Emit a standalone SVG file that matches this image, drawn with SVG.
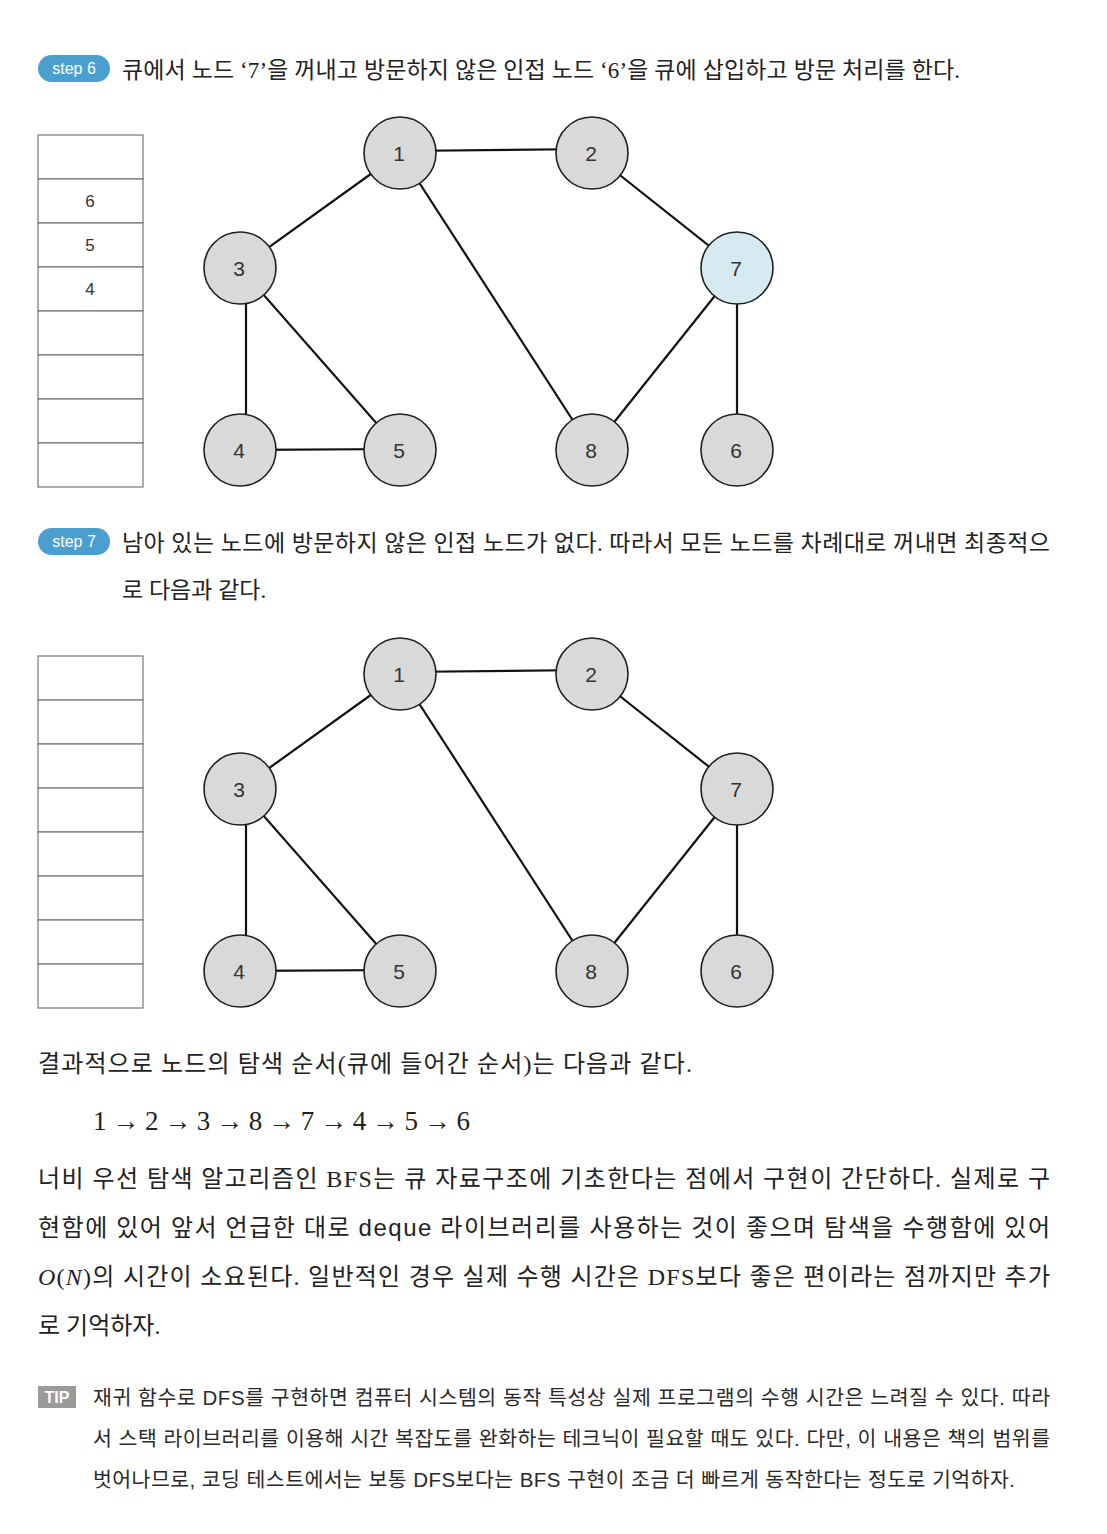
<svg xmlns="http://www.w3.org/2000/svg" width="1107" height="1534" viewBox="0 0 1107 1534">
<style>
.bg{fill:#ffffff}
.badge{fill:#4b9fcf}
.badgeT{font-family:"Liberation Sans","Noto Sans",sans-serif;font-size:16px;fill:#ffffff;text-anchor:middle}
.body{font-family:"Liberation Serif","Noto Sans CJK KR",serif;font-size:23px;fill:#222222}
.para{font-size:24px}
.tip{font-family:"Liberation Sans","Noto Sans CJK KR",sans-serif;font-size:20.5px;fill:#2a2a2a}
.cell{fill:#ffffff;stroke:#777777;stroke-width:1.2}
.cellT{font-family:"Liberation Sans","Noto Sans",sans-serif;font-size:17px;fill:#333333;text-anchor:middle}
.node{fill:#d9d9d9;stroke:#1e1e1e;stroke-width:1.6}
.cur{fill:#d6eaf2}
.nodeT{font-family:"Liberation Sans","Noto Sans",sans-serif;font-size:21px;fill:#333333;text-anchor:middle}
.edge{stroke:#111111;stroke-width:2.2;fill:none}
</style>
<rect class="bg" x="0" y="0" width="1107" height="1534"/>

<!-- step 6 header -->
<g id="step6-header">
<rect class="badge" x="38" y="55" width="72" height="27" rx="13.5"/>
<text class="badgeT" x="74" y="74">step 6</text>
<text class="body" x="122" y="78" textLength="838" lengthAdjust="spacing">큐에서 노드 ‘7’을 꺼내고 방문하지 않은 인접 노드 ‘6’을 큐에 삽입하고 방문 처리를 한다.</text>
</g>

<!-- queue 1 -->
<g id="queue1">
<rect class="cell" x="38" y="135" width="105" height="44"/>
<rect class="cell" x="38" y="179" width="105" height="44"/>
<rect class="cell" x="38" y="223" width="105" height="44"/>
<rect class="cell" x="38" y="267" width="105" height="44"/>
<rect class="cell" x="38" y="311" width="105" height="44"/>
<rect class="cell" x="38" y="355" width="105" height="44"/>
<rect class="cell" x="38" y="399" width="105" height="44"/>
<rect class="cell" x="38" y="443" width="105" height="44"/>
<text class="cellT" x="90" y="207">6</text>
<text class="cellT" x="90" y="251">5</text>
<text class="cellT" x="90" y="295">4</text>
</g>

<!-- graph 1 edges -->
<g id="edges1">
<line class="edge" x1="400" y1="151" x2="592" y2="149"/>
<line class="edge" x1="400" y1="153" x2="240" y2="268"/>
<line class="edge" x1="400" y1="153" x2="592" y2="450"/>
<line class="edge" x1="592" y1="153" x2="737" y2="268"/>
<line class="edge" x1="246" y1="268" x2="246" y2="450"/>
<line class="edge" x1="240" y1="268" x2="400" y2="450"/>
<line class="edge" x1="240" y1="450" x2="400" y2="449"/>
<line class="edge" x1="737" y1="268" x2="592" y2="450"/>
<line class="edge" x1="737" y1="268" x2="737" y2="450"/>
</g>

<!-- graph 1 nodes -->
<g id="g1-node1"><circle class="node" cx="400" cy="153" r="36"/><text class="nodeT" x="399" y="161">1</text></g>
<g id="g1-node2"><circle class="node" cx="592" cy="153" r="36"/><text class="nodeT" x="591" y="161">2</text></g>
<g id="g1-node3"><circle class="node" cx="240" cy="268" r="36"/><text class="nodeT" x="239" y="276">3</text></g>
<g id="g1-node7"><circle class="node cur" cx="737" cy="268" r="36"/><text class="nodeT" x="736" y="276">7</text></g>
<g id="g1-node4"><circle class="node" cx="240" cy="450" r="36"/><text class="nodeT" x="239" y="458">4</text></g>
<g id="g1-node5"><circle class="node" cx="400" cy="450" r="36"/><text class="nodeT" x="399" y="458">5</text></g>
<g id="g1-node8"><circle class="node" cx="592" cy="450" r="36"/><text class="nodeT" x="591" y="458">8</text></g>
<g id="g1-node6"><circle class="node" cx="737" cy="450" r="36"/><text class="nodeT" x="736" y="458">6</text></g>

<!-- step 7 header -->
<g id="step7-header">
<rect class="badge" x="38" y="528" width="72" height="27" rx="13.5"/>
<text class="badgeT" x="74" y="547">step 7</text>
<text class="body" x="122" y="551" textLength="928" lengthAdjust="spacing">남아 있는 노드에 방문하지 않은 인접 노드가 없다. 따라서 모든 노드를 차례대로 꺼내면 최종적으</text>
<text class="body" x="122" y="598">로 다음과 같다.</text>
</g>

<!-- queue 2 -->
<g id="queue2">
<rect class="cell" x="38" y="656" width="105" height="44"/>
<rect class="cell" x="38" y="700" width="105" height="44"/>
<rect class="cell" x="38" y="744" width="105" height="44"/>
<rect class="cell" x="38" y="788" width="105" height="44"/>
<rect class="cell" x="38" y="832" width="105" height="44"/>
<rect class="cell" x="38" y="876" width="105" height="44"/>
<rect class="cell" x="38" y="920" width="105" height="44"/>
<rect class="cell" x="38" y="964" width="105" height="44"/>
</g>

<!-- graph 2 edges -->
<g id="edges2">
<line class="edge" x1="400" y1="672" x2="592" y2="670"/>
<line class="edge" x1="400" y1="674" x2="240" y2="789"/>
<line class="edge" x1="400" y1="674" x2="592" y2="971"/>
<line class="edge" x1="592" y1="674" x2="737" y2="789"/>
<line class="edge" x1="246" y1="789" x2="246" y2="971"/>
<line class="edge" x1="240" y1="789" x2="400" y2="971"/>
<line class="edge" x1="240" y1="971" x2="400" y2="970"/>
<line class="edge" x1="737" y1="789" x2="592" y2="971"/>
<line class="edge" x1="737" y1="789" x2="737" y2="971"/>
</g>

<!-- graph 2 nodes -->
<g id="g2-node1"><circle class="node" cx="400" cy="674" r="36"/><text class="nodeT" x="399" y="682">1</text></g>
<g id="g2-node2"><circle class="node" cx="592" cy="674" r="36"/><text class="nodeT" x="591" y="682">2</text></g>
<g id="g2-node3"><circle class="node" cx="240" cy="789" r="36"/><text class="nodeT" x="239" y="797">3</text></g>
<g id="g2-node7"><circle class="node" cx="737" cy="789" r="36"/><text class="nodeT" x="736" y="797">7</text></g>
<g id="g2-node4"><circle class="node" cx="240" cy="971" r="36"/><text class="nodeT" x="239" y="979">4</text></g>
<g id="g2-node5"><circle class="node" cx="400" cy="971" r="36"/><text class="nodeT" x="399" y="979">5</text></g>
<g id="g2-node8"><circle class="node" cx="592" cy="971" r="36"/><text class="nodeT" x="591" y="979">8</text></g>
<g id="g2-node6"><circle class="node" cx="737" cy="971" r="36"/><text class="nodeT" x="736" y="979">6</text></g>

<!-- result text -->
<g id="result">
<text class="body para" x="38" y="1072" textLength="654" lengthAdjust="spacing">결과적으로 노드의 탐색 순서(큐에 들어간 순서)는 다음과 같다.</text>
<text class="body" x="93" y="1130" style="font-size:27px" textLength="377" lengthAdjust="spacing">1→2→3→8→7→4→5→6</text>
</g>

<!-- paragraph -->
<g id="paragraph">
<text class="body para" x="38" y="1187" textLength="1012" lengthAdjust="spacing">너비 우선 탐색 알고리즘인 BFS는 큐 자료구조에 기초한다는 점에서 구현이 간단하다. 실제로 구</text>
<text class="body para" x="38" y="1236" textLength="1012" lengthAdjust="spacing">현함에 있어 앞서 언급한 대로 <tspan style="font-family:'Liberation Sans','Noto Sans',sans-serif">deque</tspan> 라이브러리를 사용하는 것이 좋으며 탐색을 수행함에 있어</text>
<text class="body para" x="38" y="1285" textLength="1012" lengthAdjust="spacing"><tspan font-style="italic">O</tspan>(<tspan font-style="italic">N</tspan>)의 시간이 소요된다. 일반적인 경우 실제 수행 시간은 DFS보다 좋은 편이라는 점까지만 추가</text>
<text class="body para" x="38" y="1334">로 기억하자.</text>
</g>

<!-- tip -->
<g id="tip">
<rect x="38" y="1386" width="38" height="22" fill="#9a9a9a"/>
<text x="57" y="1403" style="font-family:'Liberation Sans',sans-serif;font-size:16px;font-weight:bold;fill:#ffffff;text-anchor:middle">TIP</text>
<text class="tip" x="93" y="1405" textLength="957" lengthAdjust="spacing">재귀 함수로 DFS를 구현하면 컴퓨터 시스템의 동작 특성상 실제 프로그램의 수행 시간은 느려질 수 있다. 따라</text>
<text class="tip" x="93" y="1446" textLength="957" lengthAdjust="spacing">서 스택 라이브러리를 이용해 시간 복잡도를 완화하는 테크닉이 필요할 때도 있다. 다만, 이 내용은 책의 범위를</text>
<text class="tip" x="93" y="1487" textLength="922" lengthAdjust="spacing">벗어나므로, 코딩 테스트에서는 보통 DFS보다는 BFS 구현이 조금 더 빠르게 동작한다는 정도로 기억하자.</text>
</g>
</svg>
